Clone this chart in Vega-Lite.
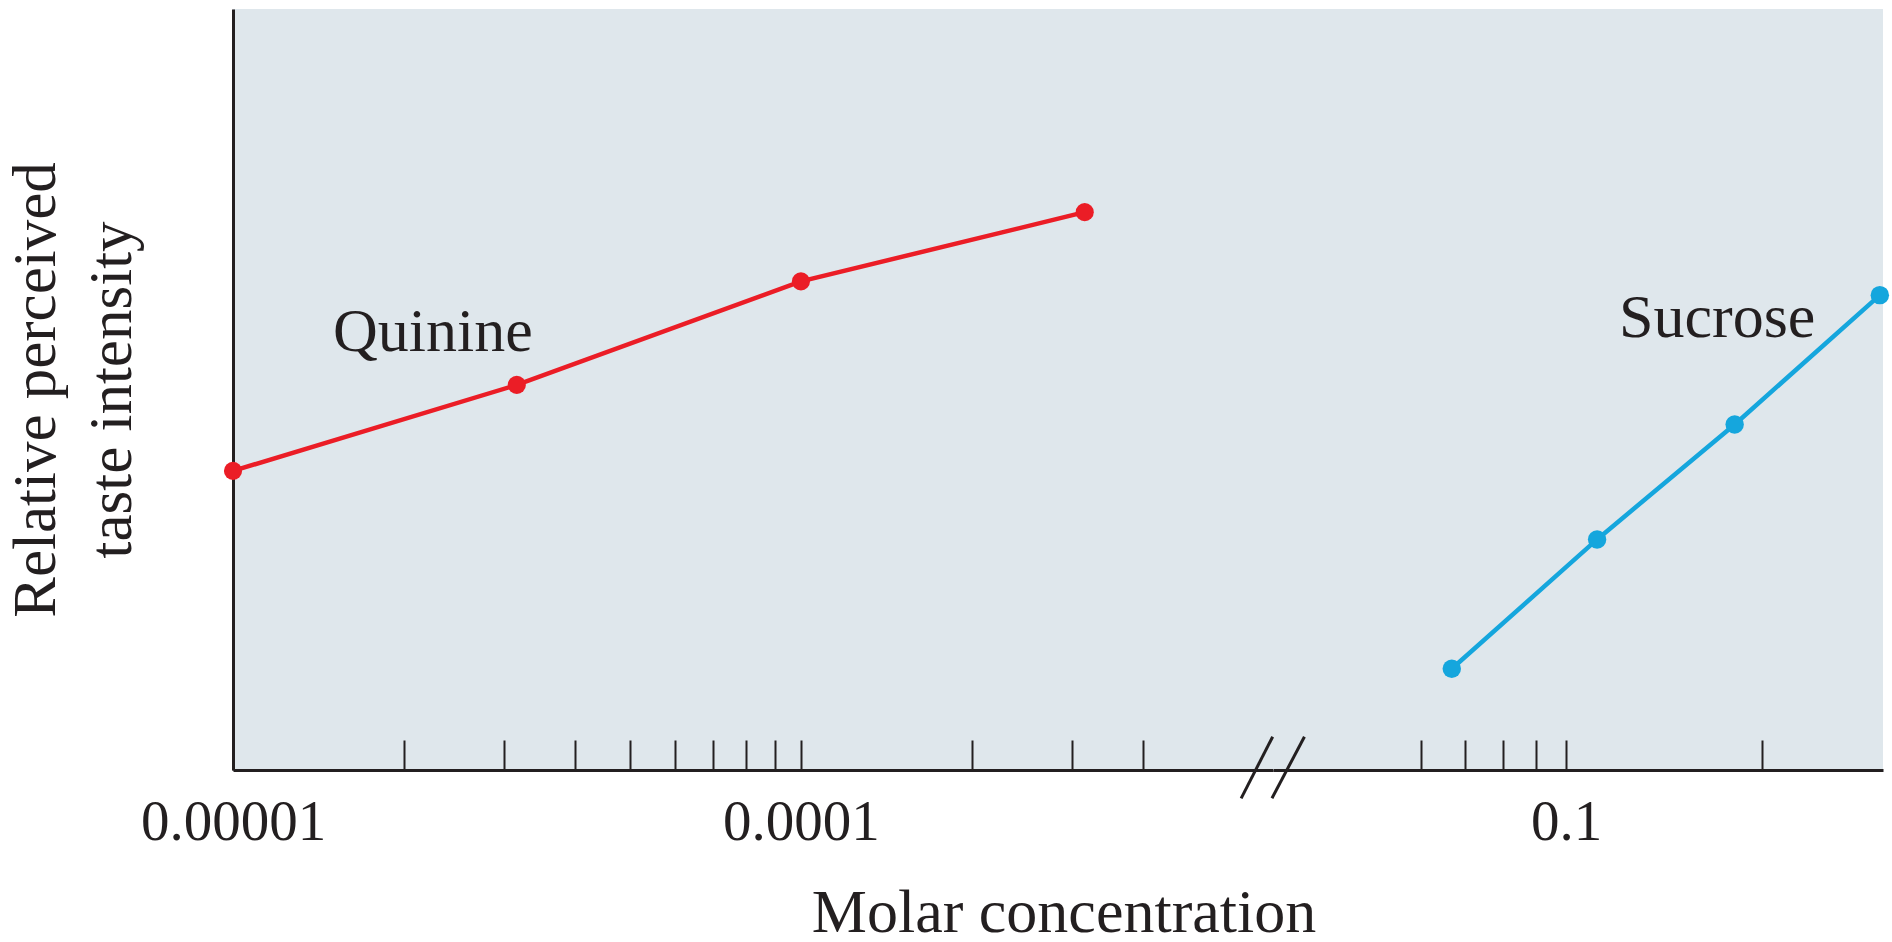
{
  "$schema": "https://vega.github.io/schema/vega-lite/v6.json",
  "background": "white",
  "padding": {"left": 5, "top": 9, "right": 10, "bottom": 0},
  "bounds": "flush",
  "config": {
    "font": "Liberation Serif",
    "view": {"fill": "#DFE7EC", "stroke": null},
    "concat": {"spacing": 0},
    "axis": {"grid": false, "domainColor": "#231F20", "tickColor": "#231F20", "labelColor": "#231F20", "titleColor": "#231F20", "labelFont": "Liberation Serif", "titleFont": "Liberation Serif", "labelLimit": 0}
  },
  "datasets": {
    "taste": [
      {"substance": "Quinine", "conc": 0.00001, "intensity": 39.3},
      {"substance": "Quinine", "conc": 0.0000316, "intensity": 50.6},
      {"substance": "Quinine", "conc": 0.0001, "intensity": 64.2},
      {"substance": "Quinine", "conc": 0.000316, "intensity": 73.3},
      {"substance": "Sucrose", "conc": 0.0668, "intensity": 13.3},
      {"substance": "Sucrose", "conc": 0.1116, "intensity": 30.3},
      {"substance": "Sucrose", "conc": 0.1814, "intensity": 45.4},
      {"substance": "Sucrose", "conc": 0.3029, "intensity": 62.4}
    ]
  },
  "title": {"text": "Molar concentration", "orient": "bottom", "anchor": "middle", "fontSize": 62, "fontWeight": "normal", "font": "Liberation Serif", "color": "#231F20", "offset": 33, "dx": 117},
  "hconcat": [
    {
      "width": 1040,
      "height": 761,
      "layer": [
        {
          "data": {"name": "taste"},
          "transform": [{"filter": "datum.substance == 'Quinine'"}],
          "mark": {"type": "line", "color": "#EB1D26", "strokeWidth": 4.5},
          "encoding": {
            "x": {"field": "conc", "type": "quantitative",
              "scale": {"type": "log", "domain": [0.00001, 0.000678], "nice": false},
              "axis": {"title": null, "values": [0.00001, 0.00002, 0.00003, 0.00004, 0.00005, 0.00006, 0.00007, 0.00008, 0.00009, 0.0001, 0.0002, 0.0003, 0.0004],
                "labelExpr": "datum.value < 0.0000105 ? '0.00001' : (datum.value > 0.000095 && datum.value < 0.000105 ? '0.0001' : '')",
                "tickSize": -30, "tickWidth": 2, "domainWidth": 3, "labelFontSize": 57, "labelPadding": 54, "labelFlush": false, "labelOverlap": false}},
            "y": {"field": "intensity", "type": "quantitative",
              "scale": {"domain": [0, 100], "nice": false, "zero": false},
              "axis": {"title": ["Relative perceived", "taste intensity"], "ticks": false, "labels": false, "domainWidth": 3, "titleFontSize": 61, "titleFontWeight": "normal", "titlePadding": 90, "titleLineHeight": 76}}
          }
        },
        {
          "data": {"name": "taste"},
          "transform": [{"filter": "datum.substance == 'Quinine'"}],
          "mark": {"type": "point", "filled": true, "opacity": 1, "color": "#EB1D26", "size": 330},
          "encoding": {
            "x": {"field": "conc", "type": "quantitative"},
            "y": {"field": "intensity", "type": "quantitative"}
          }
        },
        {
          "data": {"values": [{}]},
          "mark": {"type": "text", "text": "Quinine", "align": "left", "baseline": "alphabetic", "fontSize": 62, "font": "Liberation Serif", "color": "#231F20"},
          "encoding": {
            "x": {"datum": 0.000015, "type": "quantitative"},
            "y": {"datum": 55, "type": "quantitative"}
          }
        }
      ]
    },
    {
      "width": 610,
      "height": 761,
      "layer": [
        {
          "data": {"name": "taste"},
          "transform": [{"filter": "datum.substance == 'Sucrose'"}],
          "mark": {"type": "line", "color": "#15A6DD", "strokeWidth": 4.5},
          "encoding": {
            "x": {"field": "conc", "type": "quantitative",
              "scale": {"type": "log", "domain": [0.03553, 0.3063], "nice": false},
              "axis": {"title": null, "values": [0.06, 0.07, 0.08, 0.09, 0.1, 0.2],
                "labelExpr": "datum.value > 0.095 && datum.value < 0.105 ? '0.1' : ''",
                "tickSize": -30, "tickWidth": 2, "domainWidth": 3, "labelFontSize": 57, "labelPadding": 54, "labelFlush": false, "labelOverlap": false}},
            "y": {"field": "intensity", "type": "quantitative",
              "scale": {"domain": [0, 100], "nice": false, "zero": false}, "axis": null}
          }
        },
        {
          "data": {"name": "taste"},
          "transform": [{"filter": "datum.substance == 'Sucrose'"}],
          "mark": {"type": "point", "filled": true, "opacity": 1, "color": "#15A6DD", "size": 340},
          "encoding": {
            "x": {"field": "conc", "type": "quantitative"},
            "y": {"field": "intensity", "type": "quantitative"}
          }
        },
        {
          "data": {"values": [{}]},
          "mark": {"type": "text", "text": "Sucrose", "align": "left", "baseline": "alphabetic", "fontSize": 62, "font": "Liberation Serif", "color": "#231F20"},
          "encoding": {
            "x": {"datum": 0.1206, "type": "quantitative"},
            "y": {"datum": 56.9, "type": "quantitative"}
          }
        },
        {
          "data": {"values": [{}]},
          "mark": {"type": "rule", "color": "#231F20", "strokeWidth": 3},
          "encoding": {
            "x": {"datum": 0.03549, "type": "quantitative"},
            "x2": {"datum": 0.03175},
            "y": {"datum": 4.376, "type": "quantitative"},
            "y2": {"datum": -3.72}
          }
        },
        {
          "data": {"values": [{}]},
          "mark": {"type": "rule", "color": "#231F20", "strokeWidth": 3},
          "encoding": {
            "x": {"datum": 0.0397, "type": "quantitative"},
            "x2": {"datum": 0.0354},
            "y": {"datum": 4.376, "type": "quantitative"},
            "y2": {"datum": -3.72}
          }
        }
      ]
    }
  ]
}
